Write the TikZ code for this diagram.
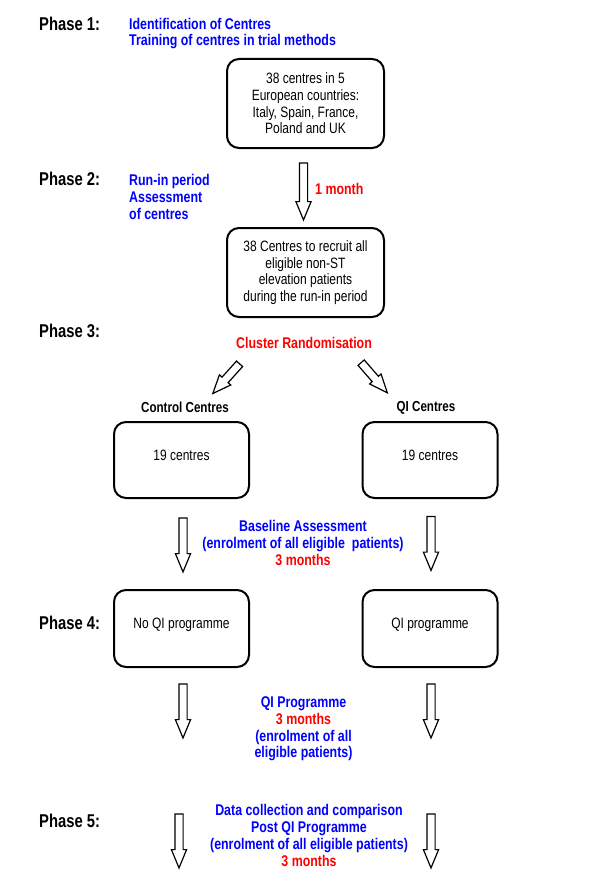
\documentclass[tikz,border=0pt]{standalone}
\usepackage{fontspec}
\setmainfont{Liberation Sans}[FakeStretch=0.8]
\usetikzlibrary{shapes.arrows}

\tikzset{
  phase/.style={font=\fontsize{18.5}{20}\selectfont\bfseries, anchor=west, inner sep=0pt},
  note/.style={font=\fontsize{15.5}{16.7}\selectfont\bfseries, text=blue, align=center, inner sep=0pt},
  head/.style={font=\fontsize{14.5}{16}\selectfont\bfseries, inner sep=0pt},
  box/.style={draw, line width=2pt, rounded corners=12pt, align=center,
    font=\fontsize{15}{16.7}\selectfont, minimum width=#1},
  single/.style={text height=11pt, text depth=11pt},
  hollow/.style={draw, line width=1.2pt, single arrow, single arrow head extend=3.5pt,
    single arrow tip angle=45, inner sep=3.5pt, minimum height=#1}
}

\begin{document}
\begin{tikzpicture}[x=1pt, y=-1pt]
    \useasboundingbox (0,0) rectangle (600,888);

    % Phase labels:
    \node[phase] (p1) at (39,24) {Phase 1:};
    \node[phase] (p2) at (39,179) {Phase 2:};
    \node[phase] (p3) at (39,331) {Phase 3:};
    \node[phase] (p4) at (39,623) {Phase 4:};
    \node[phase] (p5) at (39,821) {Phase 5:};

    % Phase 1 and 2:
    \node[note, align=left, anchor=west] (ident) at (129,33.5) {Identification of Centres\\Training of centres in trial methods};
    \node[box=157pt, minimum height=89pt] (countries) at (305.5,103.5) {38 centres in 5\\European countries:\\Italy, Spain, France,\\Poland and UK};
    \node[hollow=57pt, rotate=-90] (a1) at (303.5,186.5) {};
    \node[note, text=red, anchor=west] (month) at (315,189) {1 month};
    \node[note, align=left, anchor=west] (runin) at (129,197) {Run-in period\\Assessment\\of centres};
    \node[box=157pt, minimum height=89pt] (recruit) at (305.5,272.5) {38 Centres to recruit all\\eligible non-ST\\elevation patients\\during the run-in period};

    % Phase 3, randomisation:
    \node[note, text=red] (cluster) at (304,343) {Cluster Randomisation};
    \node[hollow=40pt, rotate=-132] (a2) at (229.5,375) {};
    \node[hollow=40pt, rotate=-49] (a3) at (371,374) {};
    \node[head] (ctrlhead) at (185,407) {Control Centres};
    \node[head] (qihead) at (426,408) {QI Centres};
    \node[box=135pt, minimum height=76pt, single] (ctrl) at (181.5,460) {19 centres};
    \node[box=135pt, minimum height=76pt, single] (qi) at (430,460) {19 centres};

    % Baseline:
    \node[hollow=54pt, rotate=-90] (a4) at (183,540) {};
    \node[hollow=54pt, rotate=-90] (a5) at (431,538.5) {};
    \node[note] (baseline) at (303,543) {Baseline Assessment\\(enrolment of all eligible\ \ patients)\\\textcolor{red}{3 months}};

    % Phase 4:
    \node[box=135pt, minimum height=77pt, single] (noqi) at (181.5,628.5) {No QI programme};
    \node[box=135pt, minimum height=77pt, single] (qiprog) at (430,628.5) {QI programme};
    \node[hollow=54pt, rotate=-90] (a6) at (183,706) {};
    \node[hollow=54pt, rotate=-90] (a7) at (431,706) {};
    \node[note] (programme) at (303.5,729) {QI Programme\\\textcolor{red}{3 months}\\(enrolment of all\\eligible patients)};

    % Phase 5:
    \node[hollow=54pt, rotate=-90] (a8) at (179,836) {};
    \node[hollow=54pt, rotate=-90] (a9) at (431,836) {};
    \node[note] (post) at (309,835.5) {Data collection and comparison\\Post QI Programme\\(enrolment of all eligible patients)\\\textcolor{red}{3 months}};
\end{tikzpicture}
\end{document}
